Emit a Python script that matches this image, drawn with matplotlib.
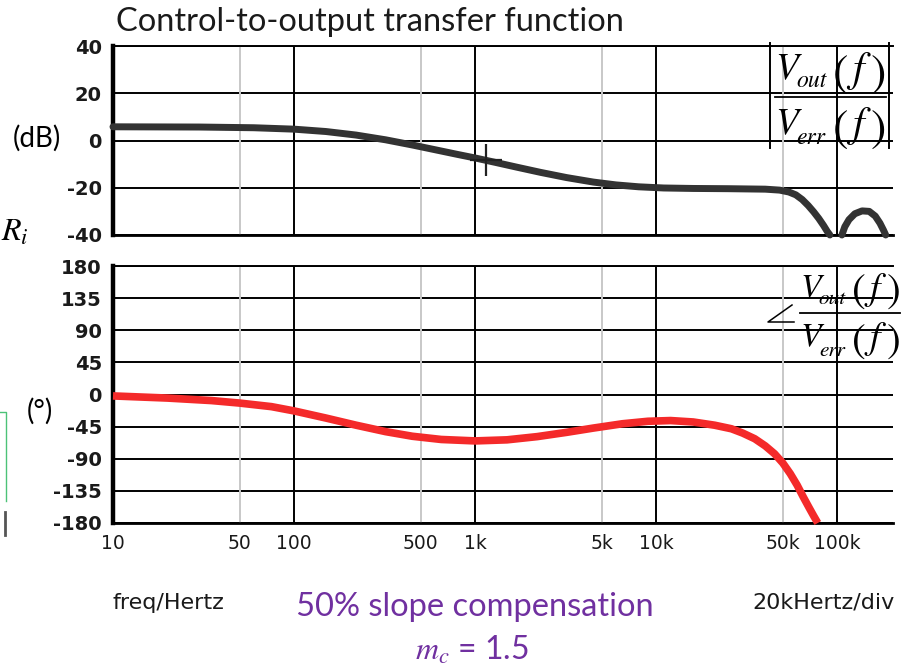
import numpy as np
import matplotlib
matplotlib.use("Agg")
import matplotlib.pyplot as plt
from matplotlib.lines import Line2D

plt.rcParams["mathtext.fontset"] = "stix"

# magnitude of Vout/Verr (dB); nan splits the curve at the notch
mag_freq = [10, 30, 60, 100, 150, 220, 320, 450, 600, 800, 1000, 1300, 1700, 2300,
            3200, 4500, 6000, 8000, 11000, 16000, 25000, 40000, 48000, 54000, 59000,
            64000, 69000, 74000, 79000, 84000, 88000, 91000,
            np.nan,
            106000, 110000, 116000, 125000, 137000, 150000, 162000, 172000, 180000, 185000]
mag_db = [5.8, 5.7, 5.4, 4.8, 3.8, 2.3, 0.3, -1.9, -3.9, -5.9, -7.4, -9.3, -11.3, -13.5,
          -15.7, -17.6, -18.8, -19.6, -20.1, -20.3, -20.4, -20.6, -21.0, -21.8, -23.0,
          -25.0, -27.5, -30.2, -33.0, -36.0, -38.5, -40.0,
          np.nan,
          -40.0, -36.5, -33.5, -31.0, -29.8, -30.0, -32.0, -35.0, -38.0, -40.0]

# phase of Vout/Verr (degrees)
ph_freq = [10, 20, 35, 50, 75, 100, 150, 220, 320, 450, 650, 1000, 1500, 2200, 3200,
           4500, 6500, 9000, 12000, 16000, 21000, 26000, 30000, 35000, 40000, 45000,
           50000, 55000, 60000, 65000, 70000, 74000, 78000]
ph_deg = [-2, -5, -8.5, -12, -17, -23, -33, -43, -52, -58.5, -63, -65, -63.5, -59, -53,
          -47, -41, -37.5, -36.5, -38.5, -43, -48, -54, -62, -72, -83,
          -96, -111, -127, -144, -159, -170, -180]

# cursor on the magnitude trace
cursor_freq = 1150
cursor_db = -8.4

x_ticks = [10, 50, 100, 500, 1000, 5000, 10000, 50000, 100000]
x_labels = ["10", "50", "100", "500", "1k", "5k", "10k", "50k", "100k"]
mag_ticks = [40, 20, 0, -20, -40]
ph_ticks = [180, 135, 90, 45, 0, -45, -90, -135, -180]

W, H = 908, 668
fig = plt.figure(figsize=(W / 100, H / 100), dpi=100)


def px(x, y):
    return x / W, 1 - y / H


def frame(x0, y0, x1, y1):
    return [x0 / W, 1 - y1 / H, (x1 - x0) / W, (y1 - y0) / H]


def line(xs, ys, **kw):
    fig.add_artist(Line2D([x / W for x in xs], [1 - y / H for y in ys],
                          transform=fig.transFigure, **kw))


def style_axes(ax, ticks, ymin, ymax):
    ax.set_xscale("log")
    ax.set_xlim(10, 2.03e5)
    ax.set_ylim(ymin, ymax)
    ax.set_yticks(ticks)
    ax.set_yticklabels([str(t) for t in ticks], fontsize=14, fontweight="bold",
                       color="#1a1a1a", family="DejaVu Sans")
    ax.tick_params(axis="both", length=0, pad=8)
    ax.minorticks_off()
    ax.yaxis.grid(True, color="black", linewidth=1.4)
    for f in x_ticks[1:]:
        decade = f in (100, 1000, 10000, 100000)
        ax.axvline(f, color="black" if decade else "#c8c8c8", linewidth=1.4, zorder=1)
    ax.spines["right"].set_visible(False)
    ax.spines["left"].set_linewidth(3.2)
    ax.spines["bottom"].set_linewidth(2.0)
    ax.spines["top"].set_linewidth(1.4)
    ax.set_axisbelow(True)


ax_mag = fig.add_axes(frame(113, 46, 893, 235))
style_axes(ax_mag, mag_ticks, -40, 40)
ax_mag.set_xticks(x_ticks)
ax_mag.set_xticklabels([])
ax_mag.plot(mag_freq, mag_db, color="#333333", linewidth=5, solid_capstyle="round",
            solid_joinstyle="round", clip_on=False, zorder=3)
ax_mag.plot([cursor_freq], [cursor_db], marker="+", markersize=23, markeredgewidth=1.6,
            color="#222222", zorder=4)

ax_ph = fig.add_axes(frame(113, 266, 893, 523))
style_axes(ax_ph, ph_ticks, -180, 180)
ax_ph.set_xticks(x_ticks)
ax_ph.set_xticklabels(x_labels, fontsize=13.5, color="#1a1a1a", family="DejaVu Sans")
ax_ph.plot(ph_freq, ph_deg, color="#f42a2a", linewidth=5.5, solid_capstyle="butt",
           solid_joinstyle="round", clip_on=False, zorder=3)


def ratio(x0, ybar, s=1.0):
    """V_out(f) over V_err(f), set piece by piece in STIX italic."""
    serif = dict(family="STIXGeneral", style="italic", color="black", va="baseline",
                 ha="left")
    upright = dict(family="STIXGeneral", color="black", va="baseline", ha="left")
    for dy, sub in ((-19, "out"), (36, "err")):
        fig.text(*px(x0, ybar + dy * s), "V", fontsize=27 * s, **serif)
        fig.text(*px(x0 + 21 * s, ybar + (dy + 9) * s + (2 if sub == "err" else 0)),
                 sub, fontsize=17 * s, **serif)
        fig.text(*px(x0 + 58 * s, ybar + (dy + 8) * s), "(", fontsize=33 * s, **upright)
        fig.text(*px(x0 + 77 * s, ybar + (dy + 3) * s), "f", fontsize=30 * s, **serif)
        fig.text(*px(x0 + 96 * s, ybar + (dy + 8) * s), ")", fontsize=33 * s, **upright)
    line([x0, x0 + 111 * s], [ybar, ybar], color="black", linewidth=1.3)


# |Vout/Verr|
ratio(775, 97)
line([770, 770], [43, 148], color="black", linewidth=1.4)
line([889, 889], [43, 148], color="black", linewidth=1.4)

# angle of Vout/Verr
ratio(800, 313, s=0.9)
line([792, 768, 794], [305, 322, 322], color="black", linewidth=1.1)

sans = "Lato"
fig.text(*px(116, 22), "Control-to-output transfer function", fontsize=23.5,
         family=sans, color="#1a1a1a", va="center", ha="left")
fig.text(*px(37, 138), "(dB)", fontsize=20, family=sans, ha="center", va="center")
fig.text(*px(40, 411), "(°)", fontsize=20, family=sans, ha="center", va="center")
fig.text(*px(15, 232), r"$R_i$", fontsize=23, ha="center", va="center")

fig.text(*px(168, 603), "freq/Hertz", fontsize=16, family="DejaVu Sans",
         ha="center", va="center", color="#1a1a1a")
fig.text(*px(824, 603), "20kHertz/div", fontsize=16, family="DejaVu Sans",
         ha="center", va="center", color="#1a1a1a")
fig.text(*px(475, 607), "50% slope compensation", fontsize=23.5, family=sans,
         color="#7030a0", ha="center", va="center")
fig.text(*px(472, 650), r"$m_c$ = 1.5", fontsize=23, family=sans,
         color="#7030a0", ha="center", va="center")

# slide leftovers at the left edge
line([0, 6, 6], [412, 412, 501], color="#4cc277", linewidth=1)
line([5, 5], [512, 535], color="#555555", linewidth=2)

fig.savefig("out.png", dpi=100)
